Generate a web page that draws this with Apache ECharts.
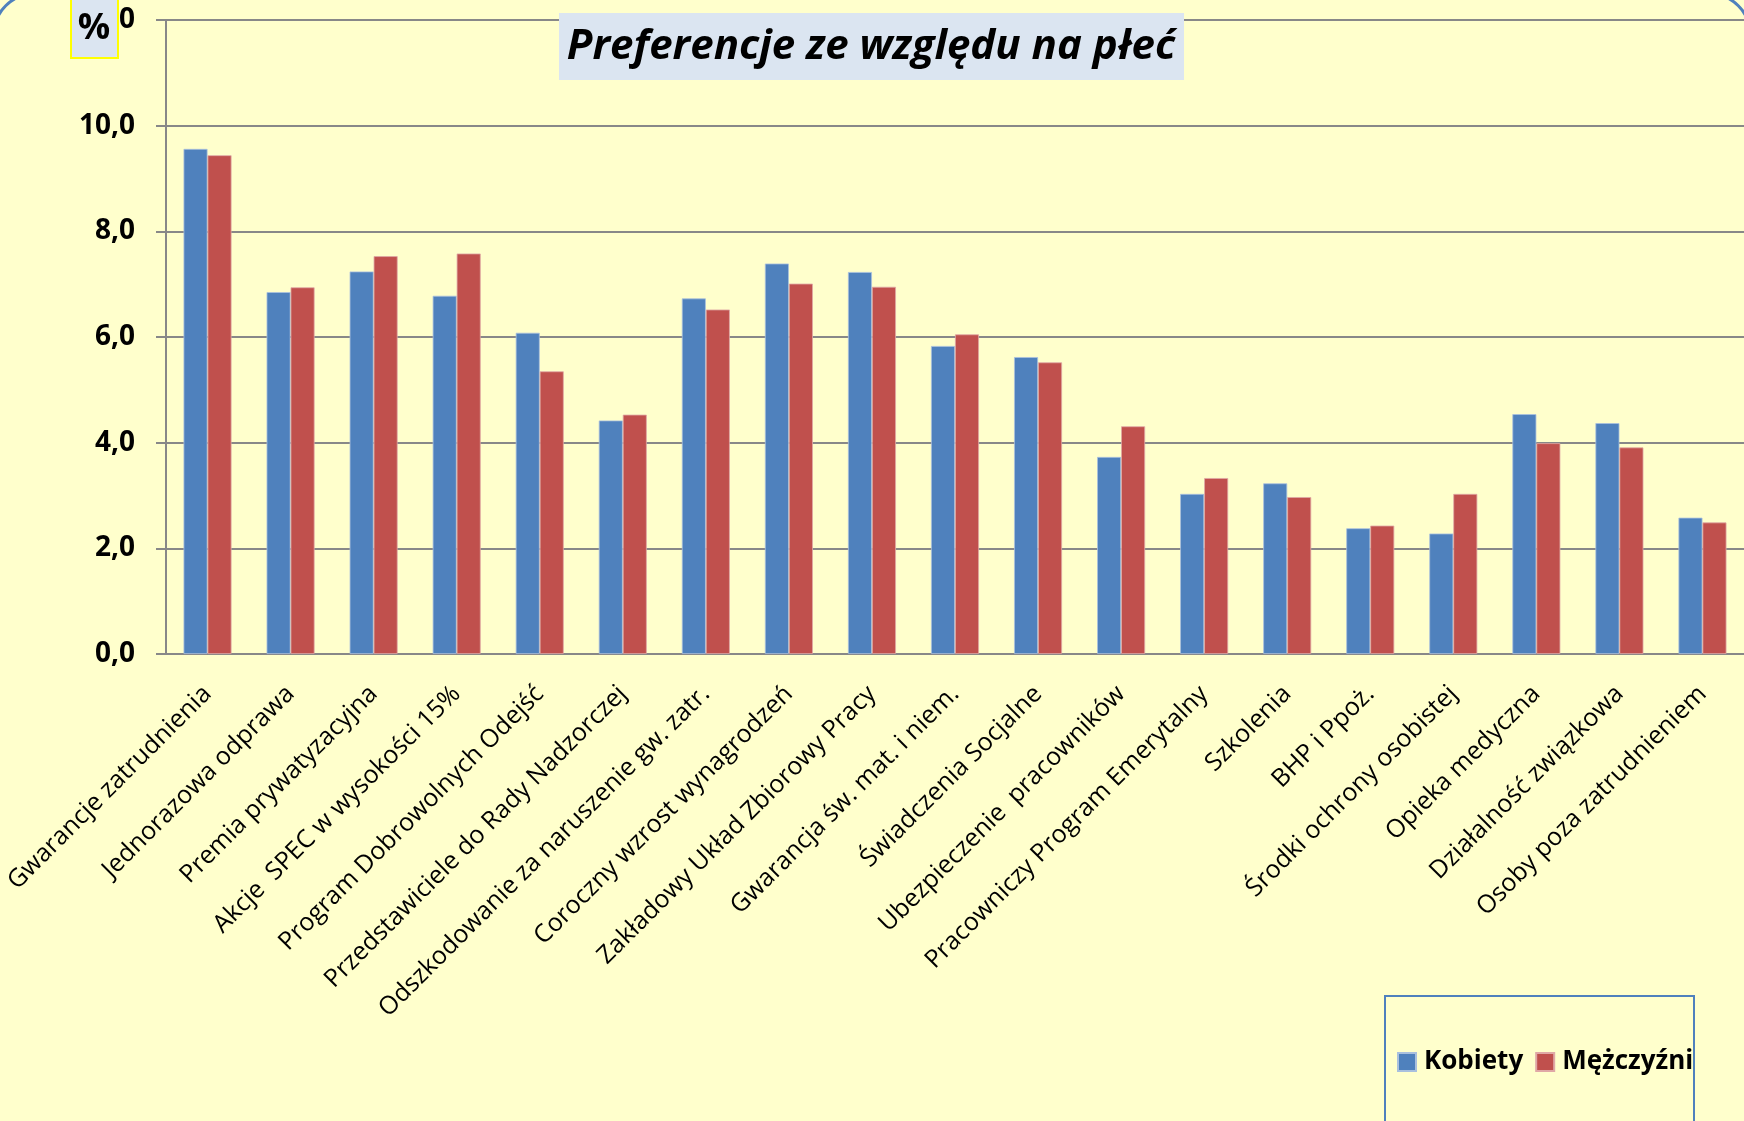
<!DOCTYPE html>
<html>
<head>
<meta charset="utf-8">
<script src="https://cdn.jsdelivr.net/npm/echarts@6/dist/echarts.min.js"></script>
<style>
    html, body { margin: 0; padding: 0; background: #ffffcc; }
    #chart { width: 1744px; height: 1121px; }
</style>
</head>
<body>
<div id="chart"></div>
<script>
// kategorie i wartości (%)
const categories = [
    'Gwarancje zatrudnienia',
    'Jednorazowa odprawa',
    'Premia prywatyzacyjna',
    'Akcje  SPEC w wysokości 15%',
    'Program Dobrowolnych Odejść',
    'Przedstawiciele do Rady Nadzorczej',
    'Odszkodowanie za naruszenie gw. zatr.',
    'Coroczny wzrost wynagrodzeń',
    'Zakładowy Układ Zbiorowy Pracy',
    'Gwarancja św. mat. i niem.',
    'Świadczenia Socjalne',
    'Ubezpieczenie  pracowników',
    'Pracowniczy Program Emerytalny',
    'Szkolenia',
    'BHP i Ppoż.',
    'Środki ochrony osobistej',
    'Opieka medyczna',
    'Działalność związkowa',
    'Osoby poza zatrudnieniem'
];
const kobiety = [9.56, 6.85, 7.24, 6.78, 6.08, 4.42, 6.73, 7.39, 7.23, 5.83, 5.62, 3.73, 3.03, 3.23, 2.38, 2.28, 4.54, 4.37, 2.58];
const mezczyzni = [9.44, 6.94, 7.53, 7.58, 5.35, 4.53, 6.52, 7.01, 6.95, 6.05, 5.52, 4.31, 3.33, 2.97, 2.43, 3.03, 3.99, 3.91, 2.49];
const seriesNames = ['Kobiety', 'Mężczyźni'];
const chartTitle = 'Preferencje ze względu na płeć';
const unitLabel = '%';

const font = "'Open Sans', 'DejaVu Sans', sans-serif";

document.addEventListener('DOMContentLoaded', function() {
    const chart = echarts.init(document.getElementById('chart'));
    const option = {
        backgroundColor: '#ffffcc',
        textStyle: { fontFamily: font },
        grid: { left: 166, right: 0, top: 20, bottom: 467 },
        legend: {
            data: seriesNames,
            left: 1397,
            top: 1049,
            padding: 0,
            icon: 'rect',
            itemWidth: 18,
            itemHeight: 18,
            itemGap: 12,
            textStyle: { fontFamily: font, fontSize: 26, fontWeight: 'bold', color: '#000', padding: [0, 0, 0, 3] }
        },
        xAxis: {
            type: 'category',
            data: categories,
            axisLine: { lineStyle: { color: '#888', width: 2 } },
            axisTick: { length: 9, lineStyle: { color: '#888', width: 2 } },
            axisLabel: {
                rotate: 45,
                interval: 0,
                margin: 36,
                fontSize: 25,
                color: '#000',
                fontFamily: font
            }
        },
        yAxis: {
            type: 'value',
            min: 0,
            max: 12,
            interval: 2,
            axisLine: { show: true, lineStyle: { color: '#888', width: 2 } },
            axisTick: { show: true, inside: false, length: 10, lineStyle: { color: '#888', width: 2 } },
            splitLine: { lineStyle: { color: '#888', width: 2 } },
            axisLabel: {
                margin: 31,
                fontSize: 28,
                fontWeight: 'bold',
                color: '#000',
                fontFamily: font,
                formatter: function(v) { return v.toFixed(1).replace('.', ','); }
            }
        },
        series: [{
            name: seriesNames[0],
            type: 'bar',
            data: kobiety,
            barWidth: 24,
            barGap: '0%',
            itemStyle: { color: '#4f81bd', borderColor: '#a9c0de', borderWidth: 0.8 }
        }, {
            name: seriesNames[1],
            type: 'bar',
            data: mezczyzni,
            barWidth: 24,
            itemStyle: { color: '#c0504d', borderColor: '#e0a8a6', borderWidth: 0.8 }
        }],
        graphic: [
            // ramka wykresu (zaokrąglona)
            {
                type: 'rect', z: 100, silent: true,
                shape: { x: -6, y: -6, width: 1756, height: 1200, r: 40 },
                style: { fill: null, stroke: '#4f81bd', lineWidth: 3 }
            },
            // tytuł
            {
                type: 'rect', z: 100,
                shape: { x: 559, y: 13, width: 625, height: 67 },
                style: { fill: '#dbe5f1' }
            },
            {
                type: 'text', z: 101,
                x: 871, y: 47,
                style: {
                    text: chartTitle,
                    font: "italic bold 42px 'Open Sans'",
                    fill: '#000',
                    align: 'center',
                    verticalAlign: 'middle'
                }
            },
            // jednostka osi
            {
                type: 'rect', z: 100,
                shape: { x: 71, y: -3, width: 47, height: 61 },
                style: { fill: '#dbe5f1', stroke: '#ffff00', lineWidth: 2 }
            },
            {
                type: 'text', z: 101,
                x: 94, y: 29,
                style: {
                    text: unitLabel,
                    font: "bold 36px 'Open Sans'",
                    fill: '#000',
                    align: 'center',
                    verticalAlign: 'middle'
                }
            },
            // ramka legendy
            {
                type: 'rect', z: 100, silent: true,
                shape: { x: 1385, y: 996, width: 309, height: 140 },
                style: { fill: null, stroke: '#4f81bd', lineWidth: 2 }
            }
        ]
    };
    chart.setOption(option);
});
</script>
</body>
</html>
